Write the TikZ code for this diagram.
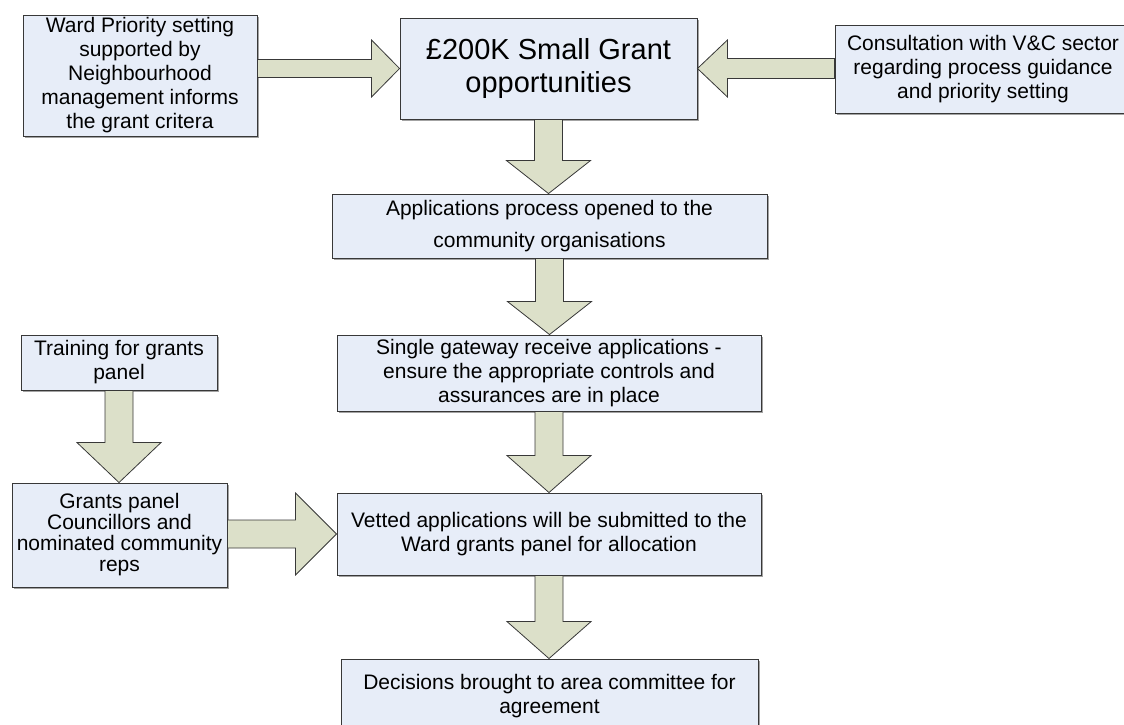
\documentclass[tikz,border=0pt]{standalone}
\usepackage{fontspec}
\setmainfont{Liberation Sans}
\usetikzlibrary{calc,shadows}
\definecolor{boxfill}{HTML}{E7EDF8}
\definecolor{arrfill}{HTML}{DCE0C9}
\definecolor{edge}{HTML}{383838}
\tikzset{
  box/.style={draw=edge, line width=0.9pt, fill=boxfill, align=center, inner sep=0pt,
    font=\fontsize{21}{24}\selectfont,
    drop shadow={shadow xshift=1.6pt, shadow yshift=-1.6pt, fill=black!45, opacity=0.8}},
  blockarr/.style={draw=edge, line width=0.8pt, fill=arrfill, line join=miter}
}
\newcommand{\downblk}[3]{%
  \draw[blockarr] let \p1=(#1.south), \p2=(#2.north) in
    (\x1-14pt,\y1) -- (\x1+14pt,\y1) -- (\x1+14pt,\y2+#3) -- (\x1+42pt,\y2+#3)
    -- (\x1,\y2) -- (\x1-42pt,\y2+#3) -- (\x1-14pt,\y2+#3) -- cycle;}
% right-pointing: from #1.east to #2.west; #3 head length, #4 shaft half, #5 head half
\newcommand{\rightblk}[5]{%
  \draw[blockarr] let \p1=(#1.east), \p2=(#2.west) in
    (\x1,\y2+#4) -- (\x2-#3,\y2+#4) -- (\x2-#3,\y2+#5) -- (\x2,\y2)
    -- (\x2-#3,\y2-#5) -- (\x2-#3,\y2-#4) -- (\x1,\y2-#4) -- cycle;}
\newcommand{\leftblk}[5]{%
  \draw[blockarr] let \p1=(#1.west), \p2=(#2.east) in
    (\x1,\y2+#4) -- (\x2+#3,\y2+#4) -- (\x2+#3,\y2+#5) -- (\x2,\y2)
    -- (\x2+#3,\y2-#5) -- (\x2+#3,\y2-#4) -- (\x1,\y2-#4) -- cycle;}
\begin{document}
\begin{tikzpicture}[x=1pt,y=-1pt]
\useasboundingbox (0,0) rectangle (1124,725);
\clip (0,0) rectangle (1124,725);

\node[box, minimum width=234pt, minimum height=121pt] (wp) at (140,75.5)
  {Ward Priority setting\\supported by\\Neighbourhood\\management informs\\the grant critera};
\node[box, minimum width=297pt, minimum height=101pt, font=\fontsize{29}{33}\selectfont] (main) at (548.5,68.5)
  {£200K Small Grant\\opportunities};
\node[box, minimum width=296pt, minimum height=88pt] (cons) at (983,69)
  {Consultation with V\&C sector\\regarding process  guidance\\and priority setting};
\node[box, minimum width=435pt, minimum height=64pt, font=\fontsize{21}{32}\selectfont] (apps) at (549.5,226)
  {Applications process opened to the\\community organisations};
\node[box, minimum width=424pt, minimum height=76pt] (gate) at (549,373)
  {Single gateway receive applications -\\ensure the appropriate controls and\\assurances are in place};
\node[box, minimum width=424pt, minimum height=82pt] (vet) at (549,534)
  {Vetted applications will be submitted to the\\Ward grants panel for allocation};
\node[box, minimum width=417pt, minimum height=74pt] (dec) at (549.5,696)
  {Decisions brought to area committee for\\agreement};
\node[box, minimum width=196pt, minimum height=55pt] (train) at (119,362.5)
  {Training for grants\\panel};
\node[box, minimum width=215pt, minimum height=104pt, font=\fontsize{21}{21}\selectfont] (grants) at (119.5,535)
  {Grants panel\\Councillors and\\nominated community\\reps};

\rightblk{wp}{main}{28pt}{9pt}{28.5pt}
\leftblk{cons}{main}{30pt}{10pt}{28.5pt}
\downblk{main}{apps}{33pt}
\downblk{apps}{gate}{33pt}
\downblk{gate}{vet}{37pt}
\downblk{vet}{dec}{37pt}
\downblk{train}{grants}{40pt}
\rightblk{grants}{vet}{41pt}{14pt}{41pt}
\end{tikzpicture}
\end{document}
